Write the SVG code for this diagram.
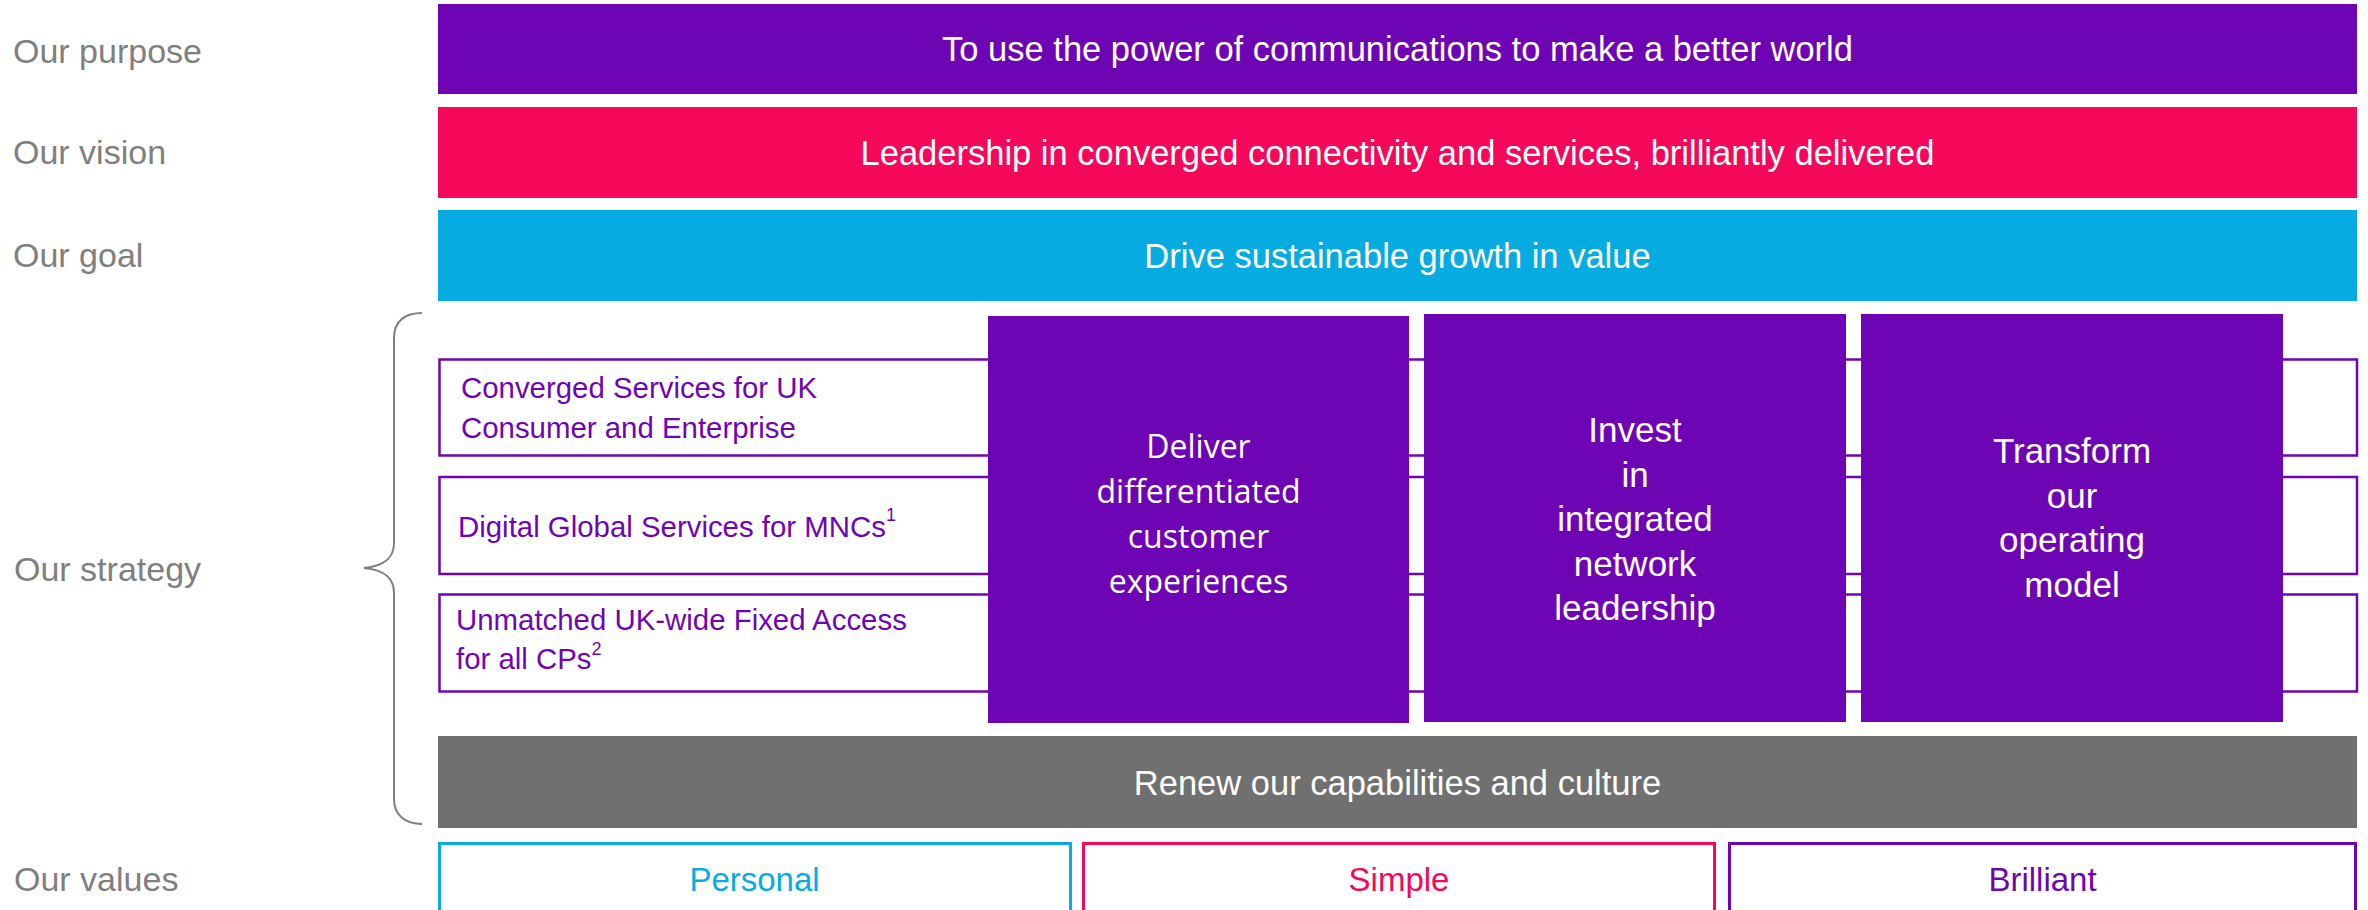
<svg xmlns="http://www.w3.org/2000/svg" width="2368" height="910" viewBox="0 0 2368 910">
<style>
text{font-family:"Liberation Sans",Arial,sans-serif}
.lbl{font-size:34px;fill:#7f7f7f}
.bar{font-size:34.5px;fill:#fff;text-anchor:middle}
.sbox{fill:#fff;stroke:#6e05b5;stroke-width:2.5}
.stxt{font-size:29.4px;fill:#6e05b5}
.col{fill:#6e05b5}
.ctxt{font-size:35px;fill:#fff;text-anchor:middle}
.ctxt1{font-family:"Open Sans",sans-serif;font-size:32px;fill:#fff;text-anchor:middle}
.val{fill:#fff;stroke-width:3}
.vtxt{font-size:33px;text-anchor:middle}
</style>
<rect width="2368" height="910" fill="#fff"/>
<g id="labels">
<text class="lbl" x="13" y="63">Our purpose</text>
<text class="lbl" x="13" y="164">Our vision</text>
<text class="lbl" x="13" y="267">Our goal</text>
<text class="lbl" x="14" y="581">Our strategy</text>
<text class="lbl" x="14" y="891">Our values</text>
</g>
<g id="purpose">
<rect x="438" y="4" width="1919" height="90" fill="#6e05b5"/>
<text class="bar" x="1397.5" y="61">To use the power of communications to make a better world</text>
</g>
<g id="vision">
<rect x="438" y="107" width="1919" height="91" fill="#f5075a"/>
<text class="bar" x="1397.5" y="165">Leadership in converged connectivity and services, brilliantly delivered</text>
</g>
<g id="goal">
<rect x="438" y="210" width="1919" height="91" fill="#05abe1"/>
<text class="bar" x="1397.5" y="268">Drive sustainable growth in value</text>
</g>
<g id="brace">
<path d="M422 313 C405 313 394 321 394 338 L394 543 C394 558 385 566 364 568 C385 570 394 578 394 593 L394 799 C394 815 405 824 422 824" fill="none" stroke="#7f7f7f" stroke-width="2"/>
</g>
<g id="converged">
<rect class="sbox" x="439.5" y="359.5" width="1917.5" height="96"/>
<text class="stxt" x="461" y="398">Converged Services for UK</text>
<text class="stxt" x="461" y="438">Consumer and Enterprise</text>
</g>
<g id="digital">
<rect class="sbox" x="439.5" y="477" width="1917.5" height="97"/>
<text class="stxt" x="458" y="537">Digital Global Services for MNCs<tspan font-size="18" dy="-16">1</tspan></text>
</g>
<g id="fixed">
<rect class="sbox" x="439.5" y="594.5" width="1917.5" height="97"/>
<text class="stxt" x="456" y="630">Unmatched UK-wide Fixed Access</text>
<text class="stxt" x="456" y="669">for all CPs<tspan font-size="18" dy="-14">2</tspan></text>
</g>
<g id="deliver">
<rect class="col" x="988" y="316" width="421" height="407"/>
<text class="ctxt1" x="1198.5" y="457.5">Deliver</text>
<text class="ctxt1" x="1198.5" y="502.5">differentiated</text>
<text class="ctxt1" x="1198.5" y="547.5">customer</text>
<text class="ctxt1" x="1198.5" y="592.5">experiences</text>
</g>
<g id="invest">
<rect class="col" x="1424" y="314" width="422" height="408"/>
<text class="ctxt" x="1635" y="442">Invest</text>
<text class="ctxt" x="1635" y="486.5">in</text>
<text class="ctxt" x="1635" y="531">integrated</text>
<text class="ctxt" x="1635" y="575.5">network</text>
<text class="ctxt" x="1635" y="620">leadership</text>
</g>
<g id="transform">
<rect class="col" x="1861" y="314" width="422" height="408"/>
<text class="ctxt" x="2072" y="463">Transform</text>
<text class="ctxt" x="2072" y="507.7">our</text>
<text class="ctxt" x="2072" y="552.3">operating</text>
<text class="ctxt" x="2072" y="597">model</text>
</g>
<g id="renew">
<rect x="438" y="736" width="1919" height="92" fill="#707070"/>
<text class="bar" x="1397.5" y="795">Renew our capabilities and culture</text>
</g>
<g id="personal">
<rect class="val" x="439.5" y="843.5" width="631" height="80" stroke="#05abe1"/>
<text class="vtxt" x="754.5" y="891" fill="#05abe1">Personal</text>
</g>
<g id="simple">
<rect class="val" x="1083.5" y="843.5" width="631" height="80" stroke="#f5075a"/>
<text class="vtxt" x="1399" y="891" fill="#f5075a">Simple</text>
</g>
<g id="brilliant">
<rect class="val" x="1729.5" y="843.5" width="626" height="80" stroke="#6e05b5"/>
<text class="vtxt" x="2042.5" y="891" fill="#6e05b5">Brilliant</text>
</g>
</svg>
